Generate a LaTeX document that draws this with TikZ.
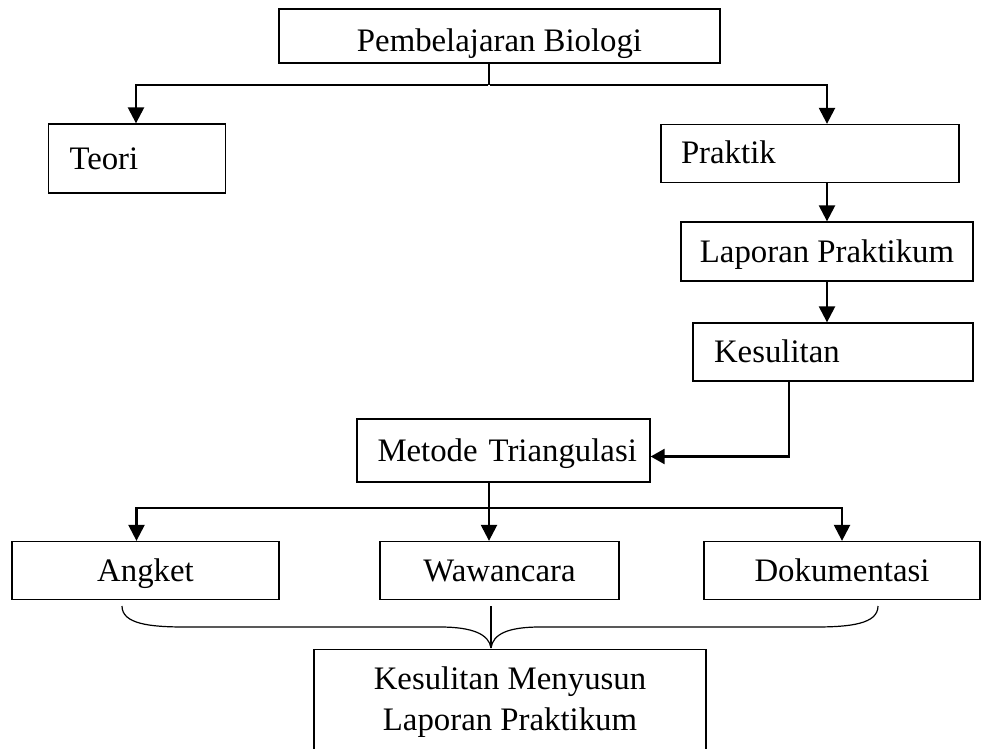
\documentclass[tikz,border=0pt]{standalone}
\usepackage{fontspec}
\setmainfont{Liberation Serif}
\usetikzlibrary{arrows.meta, positioning}

\tikzset{
  box/.style = {draw, line width=1.3pt, rectangle, inner ysep=0pt,
    minimum height=58pt, text height=25pt, text depth=4pt},
  lbox/.style = {box, align=left, inner xsep=20pt},
  link/.style = {line width=2.4pt, -{Triangle[length=16pt, width=16pt]}},
  stem/.style = {line width=1.2pt}
}

\begin{document}
\begin{tikzpicture}[
    x=1pt, y=-1pt,
    every node/.append style = {font=\fontsize{32.8}{41}\selectfont}
  ]
  \useasboundingbox[fill=white] (0,0) rectangle (982,749);

  % boxes
  \node[box, minimum width=441pt, minimum height=54pt, text height=32pt,
    text depth=1pt] (bio) at (499.5,36) {Pembelajaran Biologi};
  \node[lbox, text width=135pt, inner xsep=21pt, minimum height=69pt] (teori)
    at (137,158.5) {Teori};
  \node[lbox, text width=258pt] (praktik) at (810,153.5) {Praktik};
  \node[box, minimum width=292pt, minimum height=59pt] (lapor) at (827,251.5)
    {Laporan Praktikum};
  \node[lbox, text width=238pt, inner xsep=21pt] (kes) at (833,352)
    {Kesulitan};
  \node[lbox, text width=272pt, inner xsep=10.5pt, minimum height=63pt] (metode)
    at (503.5,450.5) {\hspace*{10pt}Metode Triangulasi};

  \node[box, minimum width=267pt] (angket) at (145.5,570.5) {Angket};
  \node[box, minimum width=239pt] (waw) at (499.5,570.5) {Wawancara};
  \node[box, minimum width=276pt] (dok) at (842,570.5) {Dokumentasi};

  \node[box, minimum width=392pt, minimum height=104pt, align=center,
    text height=, text depth=, anchor=north] (hasil) at (510,649)
    {Kesulitan Menyusun\\Laporan Praktikum};

  % connectors
  \coordinate (j1) at (489,85);
  \coordinate (j2) at (489,508);
  \coordinate (tip) at (491,648);

  \draw[stem] (bio.south -| j1) -- (j1);
  \draw[link] ([xshift=-1.2pt]j1) -| ([xshift=-1pt]teori.north);
  \draw[link] ([xshift=1.2pt]j1) -| (praktik.north -| lapor.north);
  \draw[link] (praktik.south -| lapor.north) -- (lapor.north);
  \draw[link] (lapor.south) -- (lapor.south |- kes.north);
  \draw[link, -{Triangle[length=14pt, width=15pt]}]
    ([xshift=-44pt]kes.south) |- ([yshift=-6pt]metode.east);

  \draw[stem] (metode.south -| j2) -- (j2);
  \draw[link] ([xshift=-1.2pt]j2) -| ([xshift=-9pt]angket.north);
  \draw[link] (j2) -- (j2 |- waw.north);
  \draw[link] ([xshift=1.2pt]j2) -| (dok.north);

  % brace
  \draw[stem] (122,606) .. controls (122,624) and (150,627) .. (185,627)
    -- (440,627) .. controls (472,627) and (489,634) .. (tip);
  \draw[stem] (878,606) .. controls (878,624) and (850,627) .. (815,627)
    -- (540,627) .. controls (508,627) and (493,634) .. (tip);
  \draw[stem] (tip |- 0,606) -- (tip);
\end{tikzpicture}
\end{document}
